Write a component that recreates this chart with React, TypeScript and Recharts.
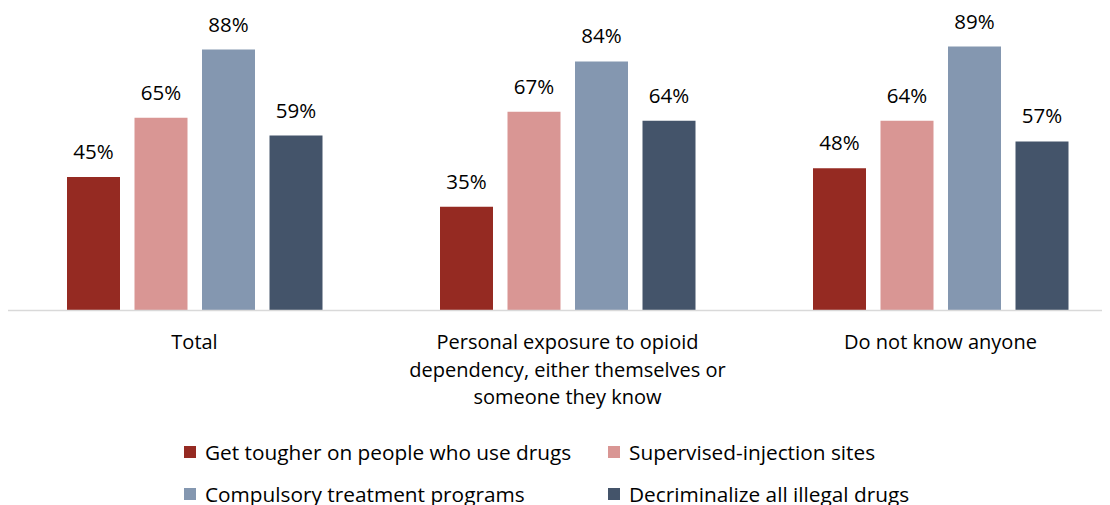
import React from "react";
import { BarChart, Bar, XAxis, YAxis, LabelList, Legend } from "recharts";

const categories = [
  "Total",
  "Personal exposure to opioid\ndependency, either themselves or\nsomeone they know",
  "Do not know anyone",
];
const tougher = [45, 35, 48];
const supervised = [65, 67, 64];
const compulsory = [88, 84, 89];
const decriminalize = [59, 64, 57];

const SERIES = [
  { key: "tougher", name: "Get tougher on people who use drugs", color: "#952A22", values: tougher },
  { key: "supervised", name: "Supervised-injection sites", color: "#D99694", values: supervised },
  { key: "compulsory", name: "Compulsory treatment programs", color: "#8497B0", values: compulsory },
  { key: "decriminalize", name: "Decriminalize all illegal drugs", color: "#44546A", values: decriminalize },
];

const data = categories.map((c, i) => {
  const row: Record<string, string | number> = { name: c };
  SERIES.forEach(s => { row[s.key] = s.values[i]; });
  return row;
});

const FONT = "'Open Sans', Lato, sans-serif";

function CategoryTick(props: Record<string, unknown>) {
  const { x, y, payload } = props as { x: number; y: number; payload: { value: string } };
  const lines = String(payload.value).split("\n");
  return (
    <text x={x} y={y} textAnchor="middle" fill="#000" fontSize={20} fontFamily={FONT}>
      {lines.map((l, i) => (
        <tspan key={i} x={x} y={y + 38.5 + i * 27.7}>{l}</tspan>
      ))}
    </text>
  );
}

function LegendBox() {
  return (
    <div style={{
      display: "grid", gridTemplateColumns: "424px 424px", paddingLeft: 176,
      fontFamily: FONT, fontSize: 20.8, color: "#000",
    }}>
      {SERIES.map(s => (
        <div key={s.key} style={{ display: "flex", alignItems: "center", height: 42 }}>
          <span style={{ width: 12, height: 12, background: s.color, marginRight: 9, display: "inline-block", flexShrink: 0 }} />
          <span style={{ whiteSpace: "nowrap" }}>{s.name}</span>
        </div>
      ))}
    </div>
  );
}

export default function App() {
  return (
    <div style={{ width: 1102, height: 497, overflow: "hidden", position: "relative" }}>
      <BarChart
        width={1119}
        height={516}
        data={data}
        margin={{ top: 6, right: 0, bottom: 0, left: 0 }}
        barCategoryGap={59}
        barGap={14.5}
      >
        <XAxis
          dataKey="name"
          height={129.5}
          tickSize={0}
          tickMargin={0}
          tickLine={false}
          axisLine={{ stroke: "#D9D9D9", strokeWidth: 1.5 }}
          tick={<CategoryTick />}
          interval={0}
        />
        <YAxis hide domain={[0, 100]} />
        <Legend verticalAlign="bottom" height={84} content={<LegendBox />} wrapperStyle={{ left: 0, top: 423, width: 1119 }} />
        {SERIES.map(s => (
          <Bar key={s.key} dataKey={s.key} name={s.name} fill={s.color} isAnimationActive={false}>
            <LabelList
              dataKey={s.key}
              position="top"
              offset={18}
              formatter={(v: unknown) => `${v}%`}
              style={{ fill: "#000", fontSize: 20.5, fontFamily: FONT }}
            />
          </Bar>
        ))}
      </BarChart>
    </div>
  );
}
